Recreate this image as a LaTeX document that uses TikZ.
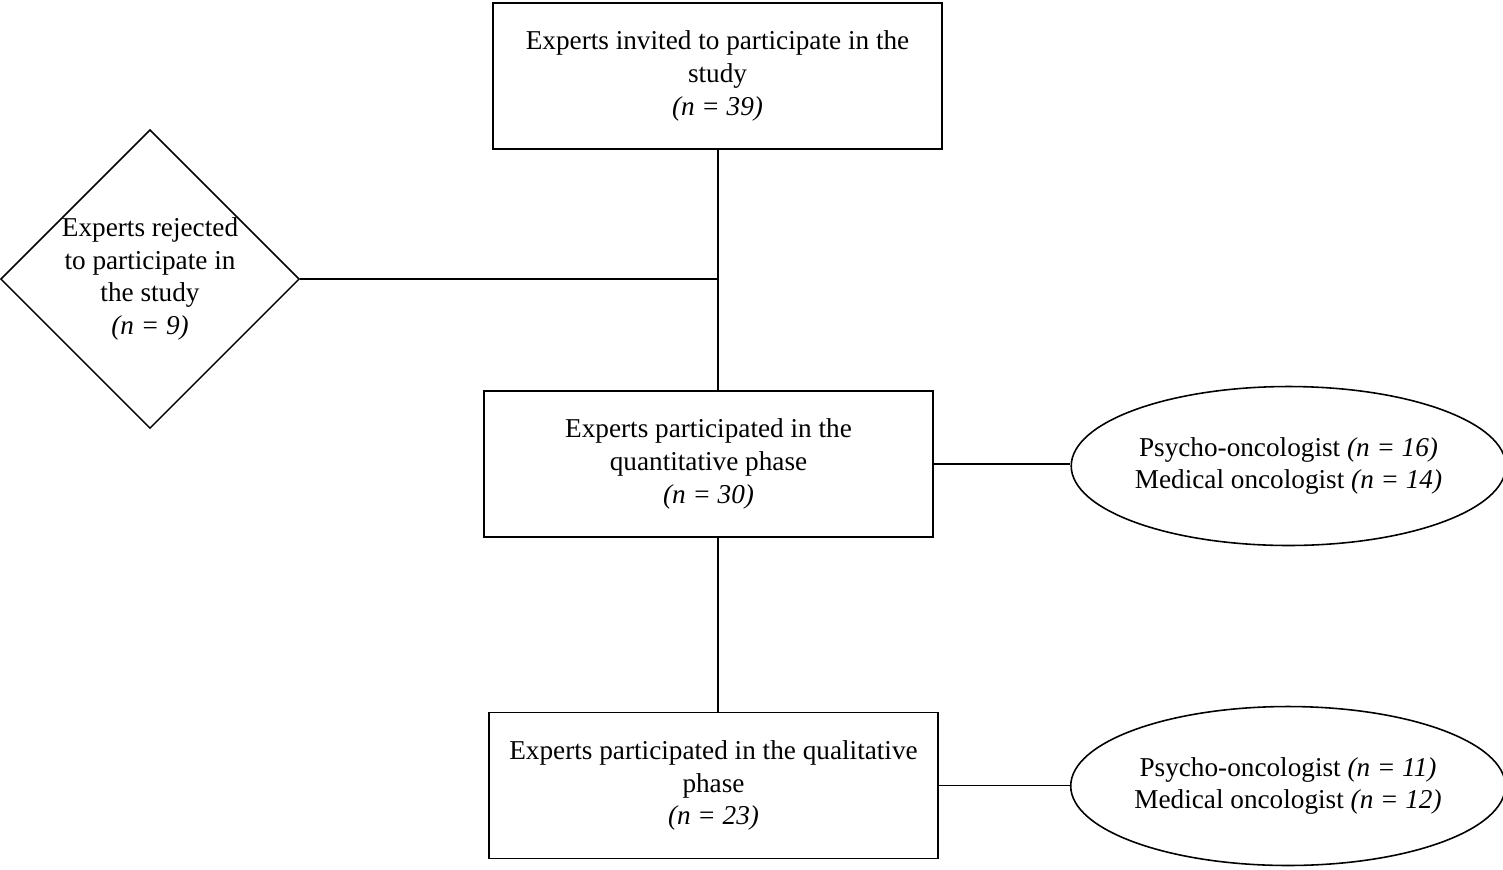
\documentclass[tikz,border=0pt]{standalone}
\usepackage{fontspec}
\setmainfont{Liberation Serif}
\usetikzlibrary{shapes.geometric}
\begin{document}
\begin{tikzpicture}[x=0.02cm,y=-0.02cm,
  every node/.style={font=\fontsize{15.5}{18.6}\selectfont, align=center, line width=0.9pt, inner sep=0pt},
  box/.style={draw, rectangle, minimum width=8.98cm, minimum height=2.92cm},
  dia/.style={draw, diamond, minimum width=5.92cm, minimum height=5.88cm, aspect=1},
  ell/.style={draw, ellipse, minimum width=8.46cm, minimum height=3.18cm},
  line/.style={line width=0.9pt}]
\useasboundingbox (0,0) rectangle (1503,869);
\node[box] (top) at (717.5,76) {Experts invited to participate in the\\ study\\ \textit{(n = 39)}};
\node[dia] (rej) at (150,279) {Experts rejected\\ to participate in\\ the study\\ \textit{(n = 9)}};
\node[box] (quan) at (708.5,464) {Experts participated in the\\ quantitative phase\\ \textit{(n = 30)}};
\node[box] (qual) at (713.5,785.5) {Experts participated in the qualitative\\ phase\\ \textit{(n = 23)}};
\node[ell] (e1) at (1288.5,466) {Psycho-oncologist \textit{(n = 16)}\\ Medical oncologist \textit{(n = 14)}};
\node[ell] (e2) at (1288,786) {Psycho-oncologist \textit{(n = 11)}\\ Medical oncologist \textit{(n = 12)}};
\coordinate (j) at (718,279);
\coordinate (a) at (718,149);
\coordinate (b) at (718,391);
\coordinate (c) at (718,537);
\coordinate (d) at (718,712);
\draw[line] (a) -- (b);
\draw[line] (rej.east) -- (j);
\draw[line] (c) -- (d);
\draw[line] (quan.east) -- (quan.east -| e1.west);
\draw[line] (qual.east) -- (qual.east -| e2.west);
\end{tikzpicture}
\end{document}
